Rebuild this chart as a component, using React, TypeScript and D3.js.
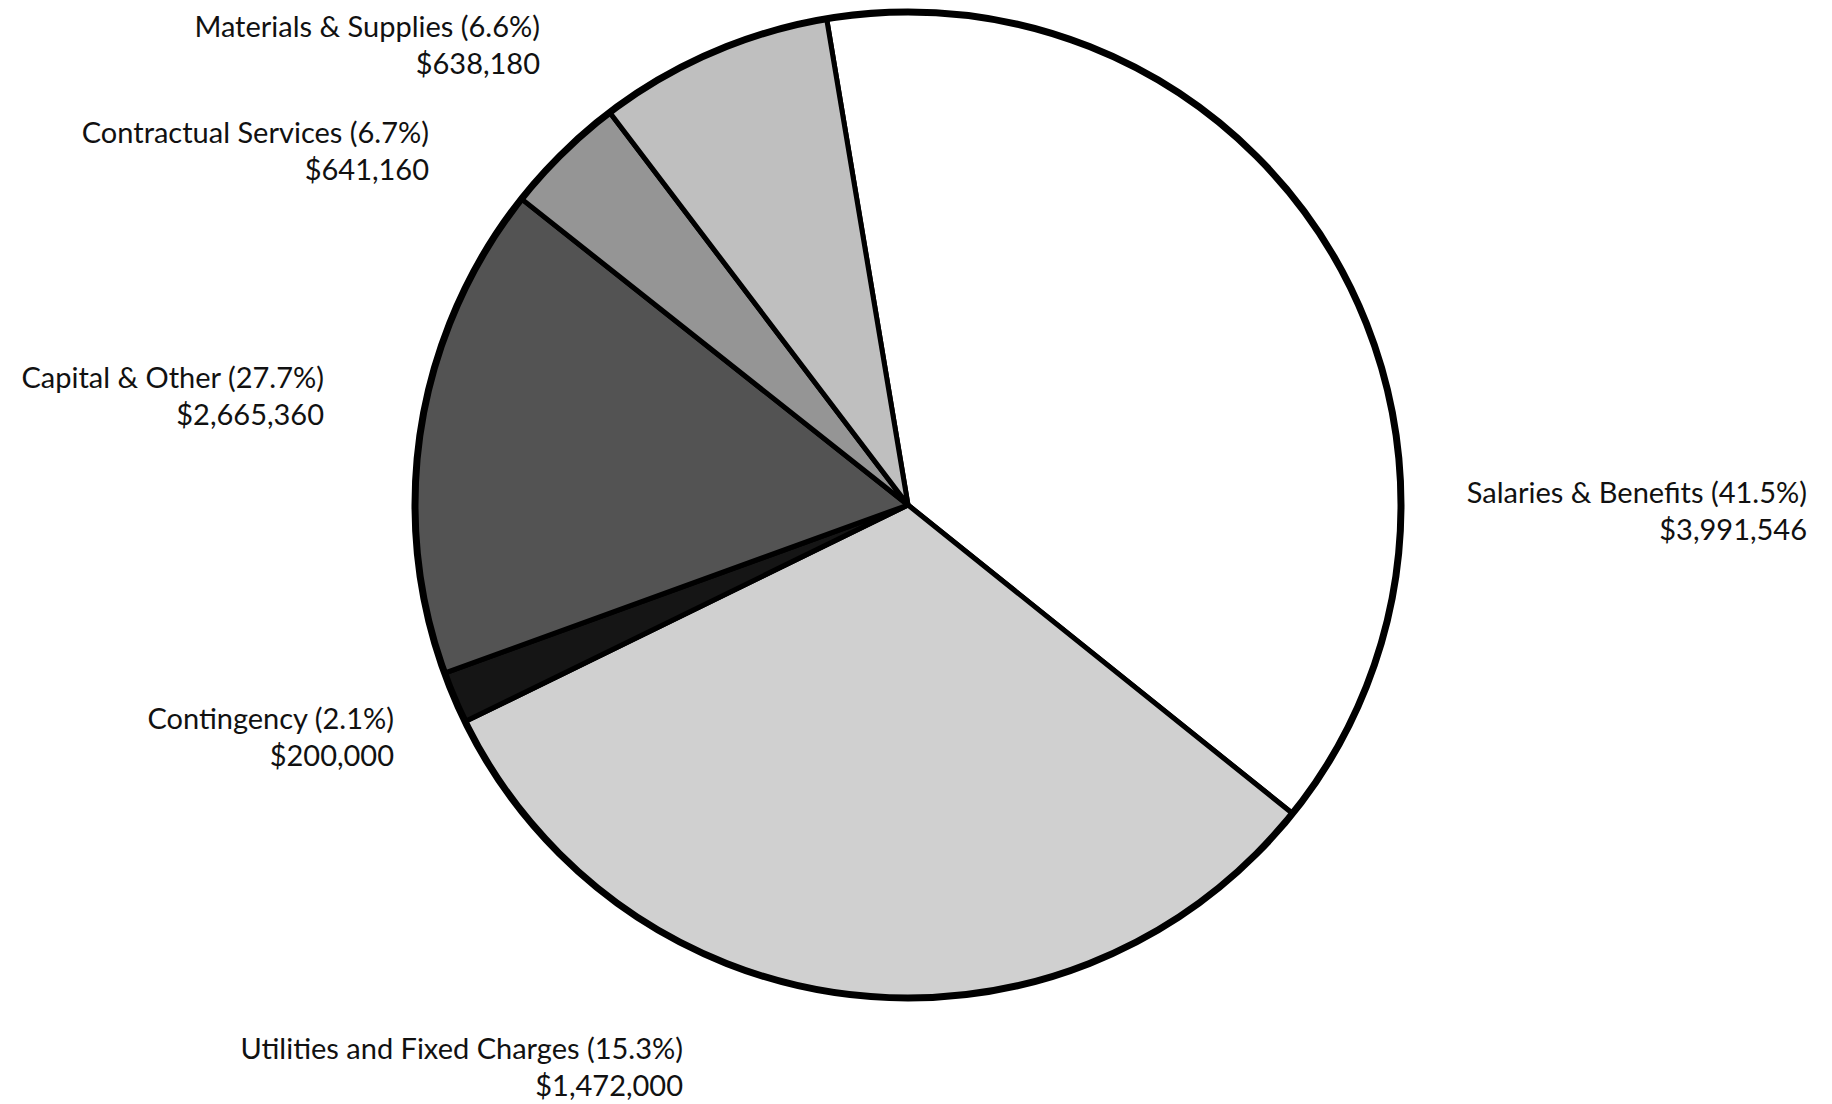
import React from "react";
import * as d3 from "d3";

// Categories in clockwise order, starting at the top (Salaries & Benefits)
const categories = [
  "Salaries & Benefits",
  "Utilities and Fixed Charges",
  "Contingency",
  "Capital & Other",
  "Contractual Services",
  "Materials & Supplies",
];
// Printed label values
const percentLabels = ["41.5%", "15.3%", "2.1%", "27.7%", "6.7%", "6.6%"];
const amountLabels = ["$3,991,546", "$1,472,000", "$200,000", "$2,665,360", "$641,160", "$638,180"];
// Slice shares as drawn in the picture (percent of the circle)
const drawnShares = [38.4, 32.0, 1.7, 16.2, 4.0, 7.7];
const fills = ["#ffffff", "#d0d0d0", "#151515", "#535353", "#959595", "#bfbfbf"];
// label anchor points (right-aligned end, first baseline)
const labelPos: [number, number][] = [
  [1807, 503],
  [683, 1059],
  [394, 729],
  [324, 388],
  [429, 143],
  [540, 37],
];

const W = 1832;
const H = 1104;

export default function App() {
  const cx = 908;
  const cy = 505;
  const r = 493;
  const startDeg = -9.5;
  const pie = d3
    .pie<number>()
    .sort(null)
    .value((d) => d)
    .startAngle((startDeg * Math.PI) / 180)
    .endAngle(((startDeg + 360) * Math.PI) / 180);
  const arcs = pie(drawnShares);
  const arcGen = d3.arc<d3.PieArcDatum<number>>().innerRadius(0).outerRadius(r);
  const lineH = 37;
  return (
    <svg
      width={W}
      height={H}
      style={{ position: "absolute", left: 0, top: 0, background: "#fff" }}
    >
      <rect x={0} y={0} width={W} height={H} fill="#fff" />
      <g transform={`translate(${cx},${cy})`}>
        {arcs.map((a, i) => (
          <path
            key={i}
            d={arcGen(a) || ""}
            fill={fills[i]}
            stroke="#000"
            strokeWidth={5}
            strokeLinejoin="round"
          />
        ))}
        <circle r={r} fill="none" stroke="#000" strokeWidth={7} />
      </g>
      <g
        fontFamily="Lato, 'Open Sans', sans-serif"
        fontSize={29}
        fill="#111"
        textAnchor="end"
      >
        {categories.map((c, i) => (
          <g key={c}>
            <text x={labelPos[i][0]} y={labelPos[i][1]}>
              {`${c} (${percentLabels[i]})`}
            </text>
            <text x={labelPos[i][0]} y={labelPos[i][1] + lineH}>
              {amountLabels[i]}
            </text>
          </g>
        ))}
      </g>
    </svg>
  );
}
